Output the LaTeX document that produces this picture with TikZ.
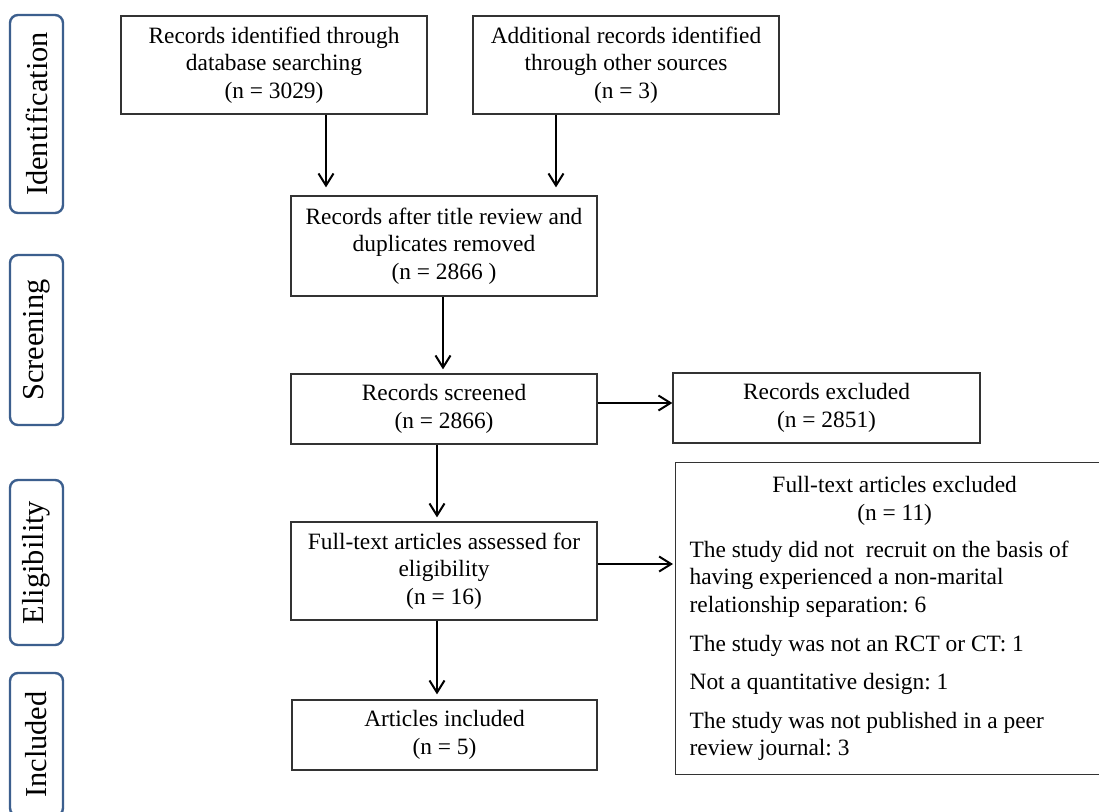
\documentclass[tikz,border=0pt]{standalone}
\usepackage{fontspec}
\setmainfont{Liberation Serif}
\usetikzlibrary{arrows.meta,calc}
\definecolor{stageblue}{HTML}{3C5F8E}
\definecolor{boxline}{HTML}{333333}
\frenchspacing
\begin{document}
\begin{tikzpicture}[x=0.5pt,y=-0.5pt,
  box/.style={draw=boxline, line width=0.65pt, align=center, inner sep=0pt,
    font=\fontsize{11.7}{13.8}\selectfont},
  stage/.style={draw=stageblue, line width=1.2pt, rounded corners=4pt, rotate=90,
    minimum height=26.5pt, inner sep=0pt, font=\fontsize{15.2}{18}\selectfont},
  arr/.style={line width=1pt, -{Straight Barb[length=6pt,width=7.5pt,line width=1pt]}}
]
\useasboundingbox (0,0) rectangle (1099,811);
\clip (0,0) rectangle (1099,811);
\fill[white] (0,0) rectangle (1099,811);

% stage labels
\node[stage, minimum width=99pt]   (sid)  at (36.5,114)   {Identification};
\node[stage, minimum width=85pt]   (sscr) at (36.5,340)   {Screening};
\node[stage, minimum width=82.5pt] (sel)  at (36.5,562.5) {Eligibility};
\node[stage, minimum width=71.5pt] (sinc) at (36.5,744.5) {Included};

% boxes
\node[box, minimum width=153pt, minimum height=49pt] (b1) at (274,65)
  {Records identified through\\database searching\\(n = 3029)};
\node[box, minimum width=153pt, minimum height=49pt] (b2) at (626,65)
  {Additional records identified\\through other sources\\(n = 3)};
\node[box, minimum width=153pt, minimum height=50pt] (b3) at (444,246)
  {Records after title review and\\duplicates removed\\(n = 2866 )};
\node[box, minimum width=153pt, minimum height=35pt] (b4) at (444,409)
  {Records screened\\(n = 2866)};
\node[box, minimum width=153.5pt, minimum height=35pt] (b5) at (826.5,408)
  {Records excluded\\(n = 2851)};
\node[box, minimum width=153pt, minimum height=49pt] (b6) at (444,571)
  {Full-text articles assessed for\\eligibility\\(n = 16)};
\node[box, minimum width=152.5pt, minimum height=35pt] (b7) at (444.5,735)
  {Articles included\\(n = 5)};
\node[box, anchor=north west, align=flush left, text width=205pt, inner xsep=7pt,
  minimum height=156pt] (b8) at (675,462)
  {\makebox[\linewidth][c]{Full-text articles excluded}\\
   \makebox[\linewidth][c]{(n = 11)}\\[4.8pt]
   The study did not\ \ recruit on the basis of\\having experienced a non-marital\\relationship separation: 6\\[5.5pt]
   The study was not an RCT or CT: 1\\[5.5pt]
   Not a quantitative design: 1\\[5.5pt]
   The study was not published in a peer\\review journal: 3};

% connectors
\coordinate (a1) at ($(b1.south)+(52,0)$);
\coordinate (a2) at ($(b2.south)+(-70,0)$);
\coordinate (a3) at ($(b3.south)+(-1,0)$);
\coordinate (a4) at ($(b4.east)+(0,-6)$);
\coordinate (a5) at ($(b4.south)+(-7,0)$);
\coordinate (a6) at ($(b6.east)+(0,-7)$);
\coordinate (a7) at ($(b6.south)+(-7,0)$);
\draw[arr, shorten >=4pt] (a1) -- (a1 |- b3.north);
\draw[arr, shorten >=4pt] (a2) -- (a2 |- b3.north);
\draw[arr, shorten >=2pt] (a3) -- (a3 |- b4.north);
\draw[arr] (a4) -- (a4 -| b5.west);
\draw[arr, shorten >=2pt] (a5) -- (a5 |- b6.north);
\draw[arr, shorten >=1pt] (a6) -- (a6 -| b8.west);
\draw[arr, shorten >=2.5pt] (a7) -- (a7 |- b7.north);
\end{tikzpicture}
\end{document}
